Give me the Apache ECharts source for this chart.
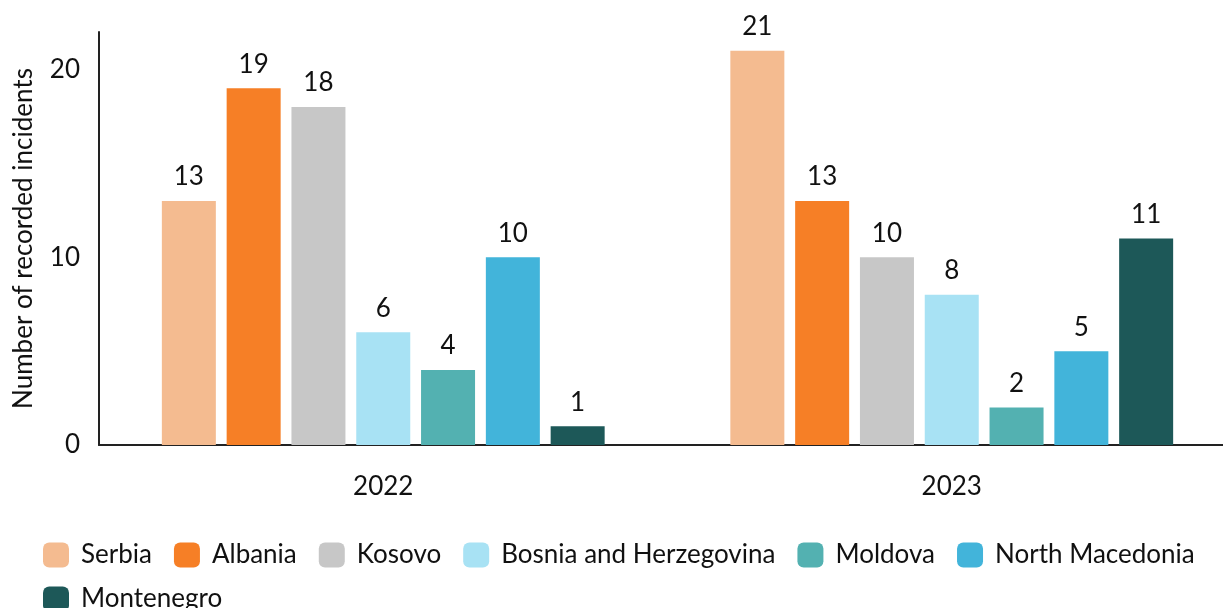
<!DOCTYPE html>
<html>
<head>
<meta charset="utf-8">
<script src="https://cdn.jsdelivr.net/npm/echarts@6/dist/echarts.min.js"></script>
<style>
  html, body { margin: 0; padding: 0; background: #fff; }
  #chart { width: 1223px; height: 608px; }
</style>
</head>
<body>
<div id="chart"></div>
<script>
const years = ['2022', '2023'];
const countries = ['Serbia', 'Albania', 'Kosovo', 'Bosnia and Herzegovina', 'Moldova', 'North Macedonia', 'Montenegro'];
const serbia = [13, 21];
const albania = [19, 13];
const kosovo = [18, 10];
const bosnia = [6, 8];
const moldova = [4, 2];
const northMacedonia = [10, 5];
const montenegro = [1, 11];
const colors = ['#F4BB90', '#F67F26', '#C7C7C7', '#A8E2F4', '#53B1B1', '#42B4DA', '#1D5858'];

const seriesValues = [serbia, albania, kosovo, bosnia, moldova, northMacedonia, montenegro];
const font = 'Lato';
const fs = 26;

const chart = echarts.init(document.getElementById('chart'));

// legend wraps after North Macedonia in the original
const legendBase = {
    left: 43,
    right: 0,
    padding: 0,
    itemWidth: 26,
    itemHeight: 25,
    itemGap: 22,
    icon: 'roundRect',
    textStyle: { fontFamily: font, fontSize: fs, color: '#111', padding: [0, 0, 0, 7] }
};

const option = {
    backgroundColor: '#fff',
    animation: false,
    textStyle: { fontFamily: font },
    legend: [
        Object.assign({ data: countries.slice(0, 6), top: 542 }, legendBase),
        Object.assign({ data: countries.slice(6), top: 586 }, legendBase)
    ],
    grid: {
        left: 99,
        right: -13,
        top: 32,
        bottom: 163,
        outerBoundsMode: 'none'
    },
    xAxis: {
        type: 'category',
        data: years,
        axisTick: { show: false },
        axisLine: { lineStyle: { color: '#222', width: 2 } },
        axisLabel: { color: '#111', fontSize: fs, fontFamily: font, margin: 29 }
    },
    yAxis: {
        type: 'value',
        min: 0,
        max: 22,
        interval: 10,
        name: 'Number of recorded incidents',
        nameLocation: 'middle',
        nameGap: 62,
        nameTextStyle: { color: '#111', fontSize: fs, fontFamily: font },
        axisLine: { show: true, lineStyle: { color: '#222', width: 2 } },
        axisTick: { show: false },
        splitLine: { show: false },
        axisLabel: { color: '#111', fontSize: fs, fontFamily: font, margin: 19, showMaxLabel: false }
    },
    series: countries.map((name, i) => ({
        name: name,
        type: 'bar',
        data: seriesValues[i],
        barWidth: 54,
        barGap: '20%',
        itemStyle: { color: colors[i] },
        label: {
            show: true,
            position: 'top',
            distance: 11,
            color: '#111',
            fontSize: fs,
            fontFamily: font
        }
    }))
};

chart.setOption(option);
</script>
</body>
</html>
